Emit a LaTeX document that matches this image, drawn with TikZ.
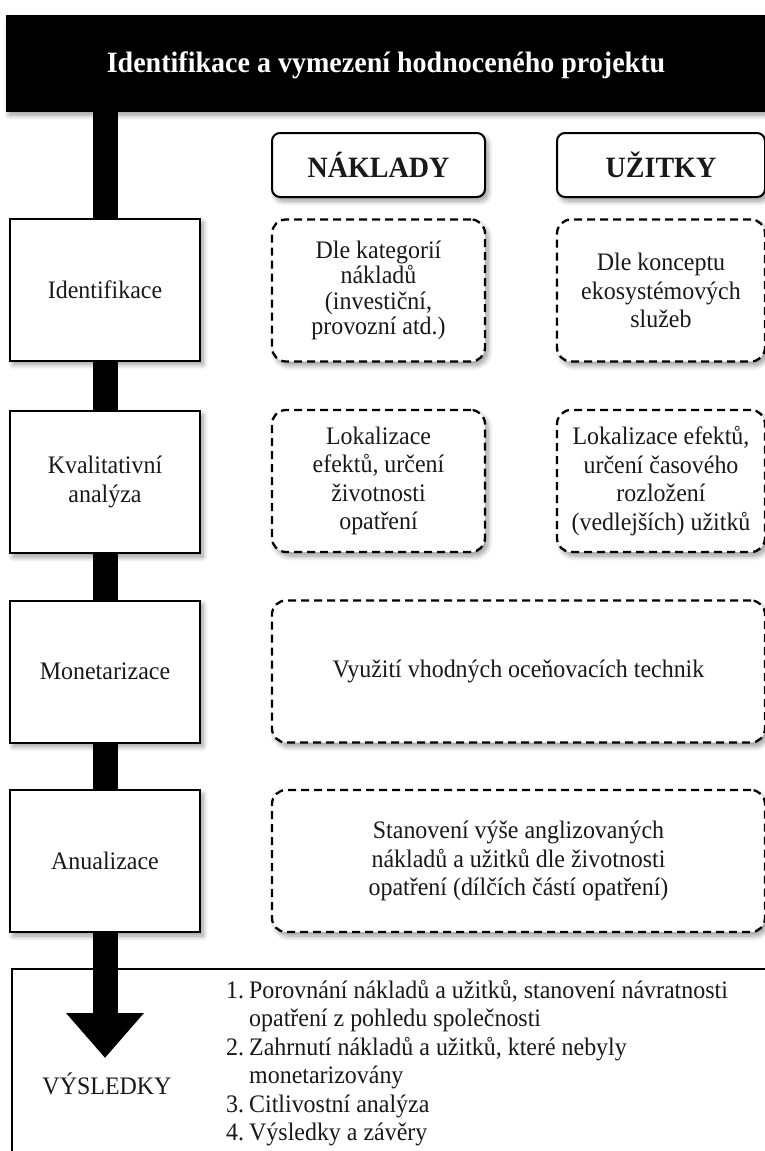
\documentclass[tikz,border=0pt]{standalone}
\usepackage{fontspec}
\setmainfont{Liberation Serif}[FakeStretch=0.95]
\usetikzlibrary{arrows.meta, shadows.blur}

\begin{document}
\begin{tikzpicture}[
  x=1pt, y=1pt,
  font=\fontsize{25.2}{28.4}\selectfont,
  every node/.style={text=black!90},
  shade/.style={blur shadow={shadow xshift=3pt, shadow yshift=-4pt,
                shadow blur radius=5pt, shadow blur steps=8, shadow opacity=40}},
  banner/.style={rectangle, fill=black, draw=black, text=white,
                 font=\fontsize{29.5}{32}\selectfont\bfseries,
                 text height=23pt, text depth=5pt,
                 minimum width=760pt, minimum height=96pt, shade},
  colhead/.style={rectangle, draw=black, line width=2pt, rounded corners=8pt,
                  fill=white, font=\fontsize{29.5}{32}\selectfont\bfseries,
                  minimum height=64pt, shade},
  phase/.style={rectangle, draw=black, line width=2pt, fill=white,
                minimum width=190pt, minimum height=142pt, align=center, shade},
  detail/.style={rectangle, draw=black, line width=2.3pt,
                 dash pattern=on 8pt off 5pt, rounded corners=14pt, fill=white,
                 minimum height=142pt, align=center, shade},
  resultbox/.style={rectangle, draw=black, line width=2pt, fill=white,
                    minimum width=800pt, minimum height=260pt},
  spine/.style={line width=25pt, black},
  outcome/.style={align=left, inner sep=0pt}
]
\useasboundingbox (0,0) rectangle (765,-1151);
\clip (0,0) rectangle (765,-1151);

%% Title bar
\node[banner] (head) at (386,-63) {Identifikace a vymezení hodnoceného projektu};

%% Column headers
\node[colhead, minimum width=213pt] (naklady) at (378.5,-165) {NÁKLADY};
\node[colhead, minimum width=208pt] (uzitky)  at (661,-165)   {UŽITKY};

%% Phases (left column)
\node[phase] (ident) at (105,-289.5) {Identifikace};
\node[phase] (kval)  at (105,-482)   {Kvalitativní\\analýza};
\node[phase] (monet) at (105,-671.5) {Monetarizace};
\node[phase] (anual) at (105,-861)   {Anualizace};

%% Details
\node[detail, minimum width=213pt, font=\fontsize{25.2}{25.5}\selectfont]
  (identN) at (378.5,-290.5) {Dle kategorií\\nákladů\\(investiční,\\provozní atd.)};
\node[detail, minimum width=208pt] (identU) at (661,-290.5)
  {Dle konceptu\\ekosystémových\\služeb};
\node[detail, minimum width=213pt] (kvalN) at (378.5,-481)
  {Lokalizace\\efektů, určení\\životnosti\\opatření};
\node[detail, minimum width=208pt] (kvalU) at (661,-481)
  {Lokalizace efektů,\\určení časového\\rozložení\\(vedlejších) užitků};
\node[detail, minimum width=493pt] (monetD) at (518.5,-671.5)
  {Využití vhodných oceňovacích technik};
\node[detail, minimum width=493pt] (anualD) at (518.5,-861)
  {Stanovení výše anglizovaných\\nákladů a užitků dle životnosti\\opatření (dílčích částí opatření)};

%% Results
\node[resultbox, anchor=north west] (result) at (11,-968) {};
\node (vysl) at (107,-1084) {VÝSLEDKY};
\node[outcome, anchor=north west] (list) at (226,-980)
  {\makebox[23pt][l]{1.}Porovnání nákladů a užitků, stanovení návratnosti\\
   \makebox[23pt][l]{}opatření z pohledu společnosti\\
   \makebox[23pt][l]{2.}Zahrnutí nákladů a užitků, které nebyly\\
   \makebox[23pt][l]{}monetarizovány\\
   \makebox[23pt][l]{3.}Citlivostní analýza\\
   \makebox[23pt][l]{4.}Výsledky a závěry};

%% Spine
\draw[spine] (head.south -| ident.north) -- (ident.north);
\draw[spine] (ident.south) -- (kval.north);
\draw[spine] (kval.south) -- (monet.north);
\draw[spine] (monet.south) -- (anual.north);
\coordinate (tip) at (105,-1058);
\draw[spine, -{Triangle[length=45pt, width=75pt]}] (anual.south) -- (tip);

\end{tikzpicture}
\end{document}
